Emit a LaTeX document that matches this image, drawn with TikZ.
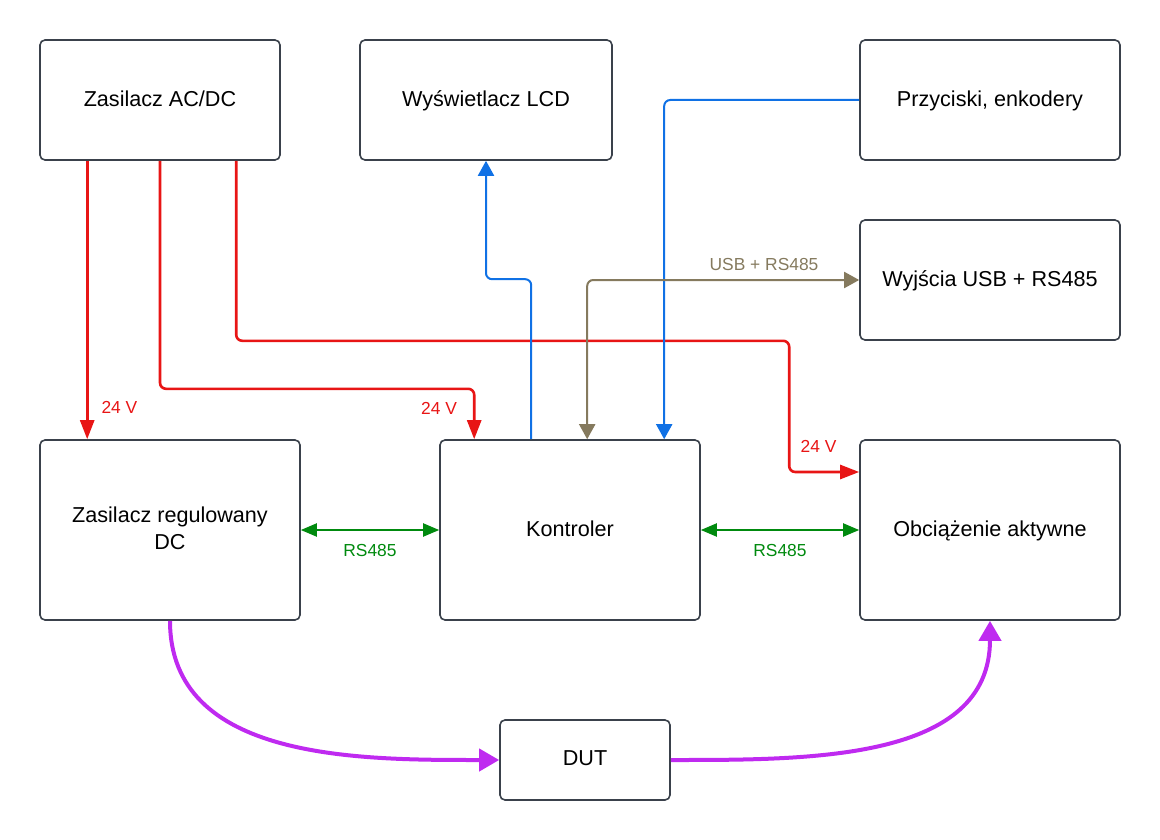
\documentclass[tikz,border=0pt]{standalone}
\usepackage{fontspec}
\setmainfont{Liberation Sans}
\usetikzlibrary{arrows.meta, positioning, calc}
\definecolor{boxgray}{RGB}{58,65,75}
\definecolor{pwrred}{RGB}{232,21,21}
\definecolor{sigblue}{RGB}{16,113,229}
\definecolor{usbbrown}{RGB}{133,122,94}
\definecolor{busgreen}{RGB}{0,138,14}
\definecolor{dutpurple}{RGB}{191,42,240}

\begin{document}
\begin{tikzpicture}[x=1pt,y=-1pt,
  block/.style={draw=boxgray,line width=1.6pt,rounded corners=5pt,fill=white,
                font=\fontsize{21.6}{27}\selectfont,align=center,inner sep=2pt,
                text depth=0.3em},
  lbl/.style={font=\fontsize{17.4}{20}\selectfont,inner sep=2pt},
  pwr/.style={-{Triangle[length=19pt,width=14pt]},pwrred,line width=2.6pt,rounded corners=6pt},
  sig/.style={-{Triangle[length=15pt,width=16pt]},sigblue,line width=2pt,rounded corners=6pt},
  usb/.style={{Triangle[length=15pt,width=16pt]}-{Triangle[length=15pt,width=16pt]},usbbrown,line width=2pt,rounded corners=6pt},
  bus/.style={{Triangle[length=16pt,width=13pt]}-{Triangle[length=16pt,width=13pt]},busgreen,line width=2pt},
  dut/.style={-{Triangle[length=20pt,width=22pt]},dutpurple,line width=4pt}
]
\useasboundingbox (0,0) rectangle (1160,840);
% bloki
\node[block,minimum width=240pt,minimum height=120pt] (acdc) at (160,100) {Zasilacz AC/DC};
\node[block,minimum width=252pt,minimum height=120pt] (lcd)  at (486,100) {Wyświetlacz LCD};
\node[block,minimum width=260pt,minimum height=120pt] (btn)  at (990,100) {Przyciski, enkodery};
\node[block,minimum width=260pt,minimum height=120pt] (usb)  at (990,280) {Wyjścia USB + RS485};
\node[block,minimum width=260pt,minimum height=180pt] (zreg) at (170,530) {Zasilacz regulowany\\DC};
\node[block,minimum width=260pt,minimum height=180pt] (ctrl) at (570,530) {Kontroler};
\node[block,minimum width=260pt,minimum height=180pt] (obc)  at (990,530) {Obciążenie aktywne};
\node[block,minimum width=170pt,minimum height=80pt]  (dut)  at (585,760) {DUT};

% zasilanie 24 V
\draw[pwr] ([xshift=48pt]acdc.south west) -- ([xshift=48pt]zreg.north west)
  node[lbl,pos=0.886,right=11pt,pwrred]{24 V};
\draw[pwr] (acdc.south) -- ++(0,228) -| ([xshift=35pt]ctrl.north west)
  node[lbl,pos=0.69,left=14pt,pwrred]{24 V};
\draw[pwr] ([xshift=197pt]acdc.south west) -- ++(0,180) -- ++(553,0) |- ([yshift=58pt]obc.west)
  node[lbl,pos=0.71,above=16pt,pwrred]{24 V};

% sygnaly
\draw[sig] ([xshift=92pt]ctrl.north west) -- ++(0,-160) -| (lcd.south);
\draw[sig] (btn.west) -| ([xshift=225pt]ctrl.north west);
\draw[usb] ([xshift=148pt]ctrl.north west) |- (usb.west)
  node[lbl,pos=0.825,above=6pt,usbbrown]{USB + RS485};

% RS485
\draw[bus] (zreg.east) -- (ctrl.west) node[lbl,midway,below=11pt,busgreen]{RS485};
\draw[bus] (ctrl.east) -- (obc.west) node[lbl,midway,below=11pt,busgreen]{RS485};

% DUT
\draw[dut] (zreg.south) .. controls +(0,140) and +(-140,0) .. (dut.west);
\draw[dut] (dut.east) .. controls +(140,0) and +(0,140) .. (obc.south);
\end{tikzpicture}
\end{document}
